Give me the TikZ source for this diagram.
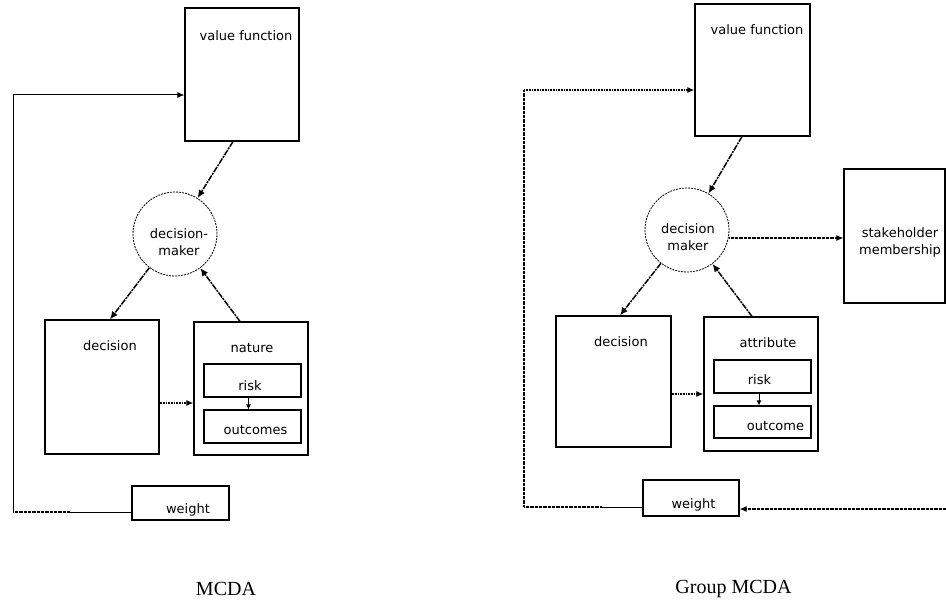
\documentclass[tikz,border=0pt]{standalone}
\usepackage{fontspec}
\setmainfont{Liberation Serif}
\newfontfamily\boxfont{DejaVu Sans}
\usetikzlibrary{arrows.meta}
\begin{document}
\begin{tikzpicture}[x=1pt,y=-1pt,
  bx/.style={draw, line width=1.1pt, inner sep=0pt},
  txt/.style={font=\boxfont\fontsize{13}{15}\selectfont, inner sep=0pt, text height=9pt, text depth=0pt},
  cirtxt/.style={font=\boxfont\fontsize{13}{17}\selectfont, inner sep=0pt, align=center},
  ttl/.style={font=\fontsize{20}{24}\selectfont, inner sep=0pt},
  dm/.style={circle, draw, line width=0.8pt, dash pattern=on 2pt off 1pt, minimum size=84pt, inner sep=0pt},
  tip/.style={-{Latex[length=7pt,width=6pt]}},
  smalltip/.style={-{Latex[length=5pt,width=5pt]}},
  dda/.style={line width=1.5pt, dash pattern=on 6pt off 1pt on 2pt off 1pt, -{Latex[length=8pt,width=7pt]}},
  hatch/.style={line width=2.2pt, dash pattern=on 1pt off 0.6pt},
  thinhatch/.style={line width=1.3pt, dash pattern=on 0.8pt off 0.5pt},
  fb/.style={line width=1pt}
]
\useasboundingbox (0,0) rectangle (946,602);

% ---------- MCDA ----------
\node[bx, minimum width=114pt, minimum height=133pt] (vf1) at (242,74.5) {};
\node[txt] (vf1t) at (246,36) {value function};
\node[dm] (dm1) at (175,234) {};
\node[cirtxt] (dm1t) at (179,242) {decision-\\maker};
\node[bx, minimum width=114pt, minimum height=134pt] (dec1) at (102,387) {};
\node[txt] (dec1t) at (110,346) {decision};
\node[bx, minimum width=114pt, minimum height=133pt] (nat1) at (251,388.5) {};
\node[txt] (nat1t) at (252,348) {nature};
\node[bx, minimum width=97pt, minimum height=33pt] (risk1) at (252.5,380.5) {};
\node[txt] (risk1t) at (250,386) {risk};
\node[bx, minimum width=97pt, minimum height=33pt] (out1) at (252.5,426.5) {};
\node[txt] (out1t) at (255.5,430) {outcomes};
\node[bx, minimum width=97pt, minimum height=34pt] (w1) at (180.5,503) {};
\node[txt] (w1t) at (188,509) {weight};
\node[ttl] (t1) at (226,589) {MCDA};

\draw[dda] ([xshift=-9pt]vf1.south) -- (dm1);
\draw[dda] (dm1) -- ([xshift=8pt]dec1.north);
\draw[dda] ([xshift=-11pt]nat1.north) -- (dm1);
\draw[hatch, tip] ([yshift=-16pt]dec1.east) -- ([yshift=-16pt]dec1.east -| nat1.west);
\draw[fb, smalltip] ([xshift=-4pt]risk1.south) -- ([xshift=-4pt]risk1.south |- out1.north);

\coordinate (c1a) at (13,95);
\coordinate (c1b) at (13,512);
\coordinate (c1m) at (70,512);
\draw[fb] ([yshift=-9pt]w1.west) -- (c1m);
\draw[thinhatch] (c1m) -- (c1b);
\draw[fb, tip] (c1b) -- (c1a) -- (c1a -| vf1.west);

% ---------- Group MCDA ----------
\node[bx, minimum width=115pt, minimum height=132pt] (vf2) at (752.5,70) {};
\node[txt] (vf2t) at (757,30) {value function};
\node[dm] (dm2) at (687,230) {};
\node[cirtxt] (dm2t) at (688,237) {decision\\maker};
\node[bx, minimum width=101pt, minimum height=134pt] (sh2) at (894.5,236) {};
\node[cirtxt] (sh2t) at (900,242) {stakeholder\\membership};
\node[bx, minimum width=115pt, minimum height=131pt] (dec2) at (613.5,381.5) {};
\node[txt] (dec2t) at (621,342) {decision};
\node[bx, minimum width=114pt, minimum height=134pt] (att2) at (761,384) {};
\node[txt] (att2t) at (768,343) {attribute};
\node[bx, minimum width=97pt, minimum height=33pt] (risk2) at (762.5,376.5) {};
\node[txt] (risk2t) at (759.5,380) {risk};
\node[bx, minimum width=97pt, minimum height=32pt] (out2) at (762.5,422) {};
\node[txt] (out2t) at (775.5,426) {outcome};
\node[bx, minimum width=96pt, minimum height=36pt] (w2) at (691,498) {};
\node[txt] (w2t) at (693.5,504) {weight};
\node[ttl] (t2) at (733.5,589) {Group MCDA};

\draw[dda] ([xshift=-10.5pt]vf2.south) -- (dm2);
\draw[thinhatch, tip] ([yshift=-8pt]dm2.east) -- ([yshift=-8pt]dm2.east -| sh2.west);
\draw[dda] (dm2) -- ([xshift=6.5pt]dec2.north);
\draw[dda] ([xshift=-9pt]att2.north) -- (dm2);
\draw[hatch, tip] ([yshift=-12.5pt]dec2.east) -- ([yshift=-12.5pt]dec2.east -| att2.west);
\draw[fb, smalltip] ([xshift=-3.5pt]risk2.south) -- ([xshift=-3.5pt]risk2.south |- out2.north);

\coordinate (c2a) at (524,90);
\coordinate (c2b) at (524,507);
\coordinate (c2m) at (602,507);
\coordinate (c2r) at (946,509);
\draw[hatch, tip] (c2a) -- (c2a -| vf2.west);
\draw[thinhatch] (c2a) -- (c2b) -- (c2m);
\draw[fb] (c2m) -- ([yshift=-9pt]w2.west);
\draw[thinhatch, tip] (c2r) -- (c2r -| w2.east);
\end{tikzpicture}
\end{document}
